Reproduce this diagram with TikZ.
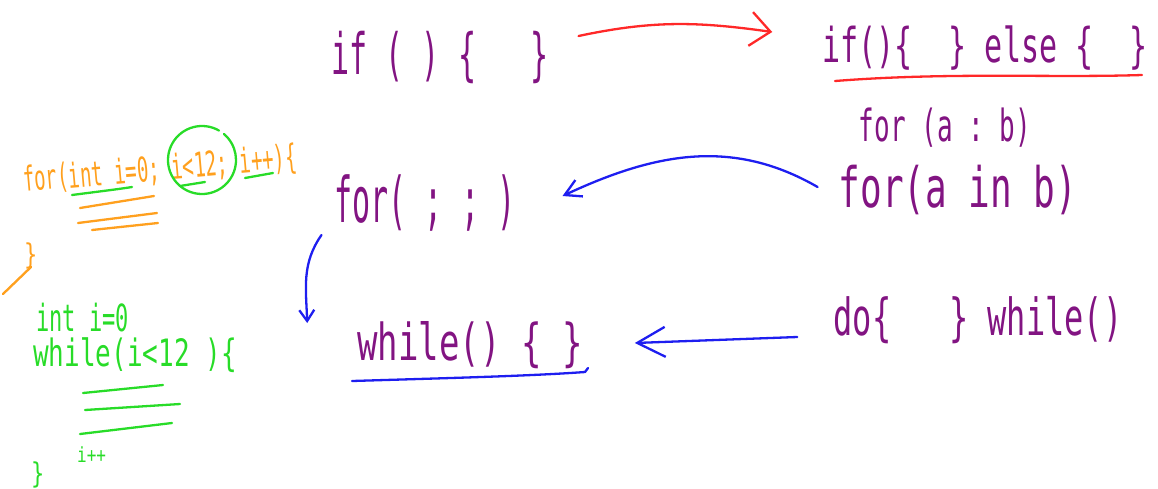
\documentclass[tikz,border=0pt]{standalone}
\usepackage{graphicx}
\usepackage{fontspec}
\setmonofont{DejaVu Sans Mono}
\usetikzlibrary{arrows.meta}

\definecolor{inkpurple}{RGB}{130,20,130}
\definecolor{inkorange}{RGB}{255,160,30}
\definecolor{inkgreen}{RGB}{40,220,40}
\definecolor{inkblue}{RGB}{30,30,240}
\definecolor{inkred}{RGB}{255,40,40}

\newcommand{\handsize}[1]{\ttfamily\fontsize{#1}{#1}\selectfont}
\newcommand{\tall}[2]{\scalebox{1}[#1]{#2}}

\begin{document}
\begin{tikzpicture}[x = 1pt, y = -1pt,
	pen/.style = {line width = 2.3pt, line cap = round, line join = round},
	code/.style = {text = inkpurple, inner sep = 0pt},
	note/.style = {anchor = base west, inner sep = 0pt}]
	\useasboundingbox (0,0) rectangle (1158,488);

	% the loop and branch forms
	\node[code, font = \handsize{30}] (ifa) at (440,57) {\tall{1.9}{if ( ) \{~~~\}}};
	\node[code, font = \handsize{30}] (ifelse) at (985,48) {\tall{1.6}{if()\{~~\} else \{~~\}}};
	\node[code, font = \handsize{26}] (forcolon) at (945,128) {\tall{1.7}{for (a : b)}};
	\node[code, font = \handsize{36}] (forin) at (958,190) {\tall{1.55}{for(a in b)}};
	\node[code, font = \handsize{30}] (forsemi) at (425,203) {\tall{2.1}{for( ; ; )}};
	\node[code, font = \handsize{34}] (whileb) at (470,345) {\tall{1.5}{while() \{ \}}};
	\node[code, font = \handsize{32}] (dowhile) at (978,320) {\tall{1.6}{do\{~~~\} while()}};

	\draw[pen, inkred, -{Straight Barb[length = 20pt, width = 34pt]}]
		([xshift = 30pt, yshift = 21pt]ifa.east) to[out = 12, in = 172]
		([xshift = -50pt, yshift = 16pt]ifelse.west);
	\draw[pen, inkred] (835,81) .. controls (950,72) and (1050,78) .. (1142,75);

	\draw[pen, inkblue, -{Straight Barb[length = 16pt, width = 18pt]}]
		([xshift = -21pt, yshift = 3pt]forin.west) to[out = 150, in = 25]
		([xshift = 47pt, yshift = 7pt]forsemi.east);
	\draw[pen, inkblue, -{Straight Barb[length = 11pt, width = 15pt]}]
		([xshift = -13pt, yshift = -32pt]forsemi.west) to[out = 235, in = 92]
		([xshift = -50pt, yshift = 22pt]whileb.west);
	\draw[pen, inkblue, -{Straight Barb[length = 28pt, width = 30pt]}]
		([xshift = -36pt, yshift = -17pt]dowhile.west) --
		([xshift = 52pt, yshift = 2pt]whileb.east);
	\draw[pen, inkblue] (352,381) .. controls (450,378) and (530,376) .. (585,372) -- (588,368);

	% the for loop written out
	\node[note, text = inkorange, font = \handsize{19}, rotate = 5] (forfull) at (24,192) {\tall{1.8}{for(int i=0; i<12; i++)\{}};
	\node[note, text = inkorange, font = \handsize{22}] (forend) at (24,264) {\tall{1.3}{\}}};
	\draw[pen, inkorange] ([xshift = 7pt, yshift = -3pt]forend.base west) -- (3,294);
	\draw[pen, inkorange] (80,208) -- (154,196);
	\draw[pen, inkorange] (78,223) -- (157,213);
	\draw[pen, inkorange] (92,230) -- (158,223);
	\draw[pen, inkgreen] (72,195) .. controls (95,192) and (120,189) .. (132,187);
	\draw[pen, inkgreen] (180,186) -- (205,182);
	\draw[pen, inkgreen] (245,178) -- (273,173);
	\draw[pen, inkgreen] (202,160) ++(-60:34) arc[start angle = -60, end angle = -410, radius = 34];

	% the same loop as a while
	\node[note, text = inkgreen, font = \handsize{22}] (init) at (36,331) {\tall{1.7}{int i=0}};
	\node[note, text = inkgreen, font = \handsize{26}] (whilefull) at (33,366) {\tall{1.45}{while(i<12 )\{}};
	\draw[pen, inkgreen] (83,393) -- (163,385);
	\draw[pen, inkgreen] (85,410) -- (180,404);
	\draw[pen, inkgreen] (80,434) -- (172,423);
	\node[note, text = inkgreen, font = \handsize{16}] (incr) at (77,462) {\tall{1.3}{i++}};
	\node[note, text = inkgreen, font = \handsize{22}] (whileend) at (31,483) {\tall{1.3}{\}}};
\end{tikzpicture}
\end{document}
